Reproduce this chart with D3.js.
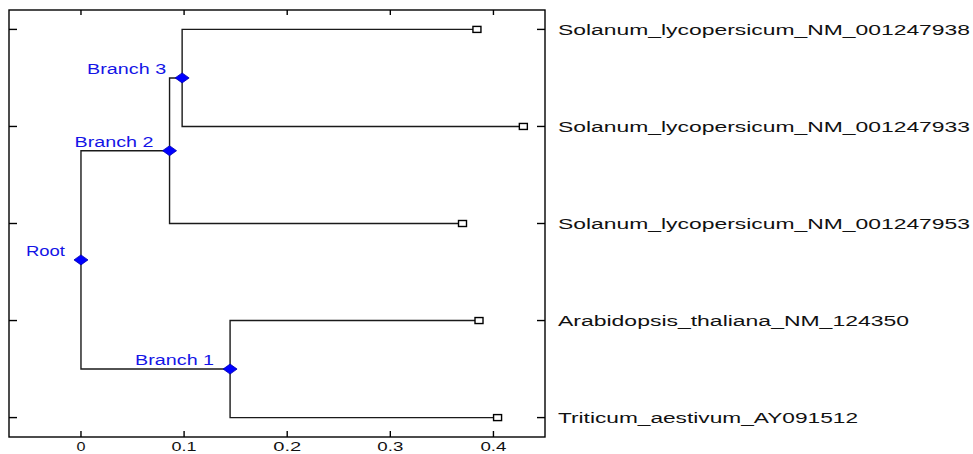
<!DOCTYPE html>
<html><head><meta charset="utf-8">
<script src="https://cdn.jsdelivr.net/npm/d3@7"></script>
<style>body{margin:0;background:#fff}svg{display:block}</style>
</head><body>
<svg id="c" width="973" height="454"></svg>
<script>
// Leaves (top to bottom) and their distance from the root
const leafNames = ["Solanum_lycopersicum_NM_001247938","Solanum_lycopersicum_NM_001247933","Solanum_lycopersicum_NM_001247953","Arabidopsis_thaliana_NM_124350","Triticum_aestivum_AY091512"];
const leafDist = [0.384, 0.429, 0.370, 0.386, 0.404];
const leafParent = ["Branch 3","Branch 3","Branch 2","Branch 1","Branch 1"];
// Internal nodes
const branchNames = ["Branch 1","Branch 2","Branch 3","Root"];
const branchDist = [0.1446, 0.0859, 0.0981, 0];
const branchParent = ["Root","Root","Branch 2",null];
const xTicks = [0, 0.1, 0.2, 0.3, 0.4];
const xTickLabels = ["0","0.1","0.2","0.3","0.4"];

const svg = d3.select("#c");
const L = 9, R = 545, T = 10, B = 437;
const x = d3.scaleLinear().domain([-0.0698, 0.4500]).range([L, R]);
const y = d3.scaleLinear().domain([0.8, 5.2]).range([T, B]);

const rows = leafNames.map((n,i)=>({id:n, parent:leafParent[i], dist:leafDist[i], leaf:true, order:i+1}))
  .concat(branchNames.map((n,i)=>({id:n, parent:branchParent[i], dist:branchDist[i], leaf:false})));
const root = d3.stratify().id(d=>d.id).parentId(d=>d.parent)(rows);
root.eachAfter(n=>{
  if (n.data.leaf) n.yv = n.data.order;
  else n.yv = d3.mean(n.children, c=>c.yv);
});

const lineCol = "#1a1a1a";
const g = svg.append("g");
// edges
root.descendants().forEach(n=>{
  if (!n.parent) return;
  const p = n.parent;
  g.append("path")
    .attr("d", d3.line()([[x(p.data.dist), y(p.yv)], [x(p.data.dist), y(n.yv)], [x(n.data.dist), y(n.yv)]]))
    .attr("fill","none").attr("stroke",lineCol).attr("stroke-width",1.4);
});
// leaf markers
root.leaves().forEach(n=>{
  g.append("rect").attr("x", x(n.data.dist)-4).attr("y", y(n.yv)-3).attr("width",8).attr("height",6)
    .attr("fill","#fff").attr("stroke","#000").attr("stroke-width",1.4);
});
// branch markers + labels
root.descendants().filter(n=>!n.data.leaf).forEach(n=>{
  const cx = x(n.data.dist), cy = y(n.yv);
  g.append("path").attr("d", `M${cx-7},${cy}L${cx},${cy-5}L${cx+7},${cy}L${cx},${cy+5}Z`)
    .attr("fill","#0000ff").attr("stroke","#0000b0").attr("stroke-width",0.8).attr("stroke-linejoin","round");
  const tl = n.id === "Root" ? 39 : 79;
  g.append("text").text(n.id).attr("x", cx-16).attr("y", cy-4).attr("text-anchor","end")
    .attr("font-family","Liberation Sans, Arial, sans-serif").attr("font-size",14)
    .attr("fill","#1414e6").attr("textLength", tl).attr("lengthAdjust","spacingAndGlyphs");
});

// axes box
svg.append("rect").attr("x",L).attr("y",T).attr("width",R-L).attr("height",B-T)
  .attr("fill","none").attr("stroke","#000").attr("stroke-width",1.4);
const ax = svg.append("g").attr("stroke","#000").attr("stroke-width",1.4);
xTicks.forEach(t=>{
  ax.append("line").attr("x1",x(t)).attr("x2",x(t)).attr("y1",B).attr("y2",B-6);
  ax.append("line").attr("x1",x(t)).attr("x2",x(t)).attr("y1",T).attr("y2",T+5);
});
leafNames.forEach((n,i)=>{
  ax.append("line").attr("x1",L).attr("x2",L+8).attr("y1",y(i+1)).attr("y2",y(i+1));
  ax.append("line").attr("x1",R).attr("x2",R-8).attr("y1",y(i+1)).attr("y2",y(i+1));
});
// x tick labels
const tw = [9, 25, 28, 26, 26];
xTicks.forEach((t,i)=>{
  svg.append("text").text(xTickLabels[i]).attr("x", x(t)).attr("y", 451).attr("text-anchor","middle")
    .attr("font-family","Liberation Sans, Arial, sans-serif").attr("font-size",12).attr("fill","#111")
    .attr("textLength", tw[i]).attr("lengthAdjust","spacingAndGlyphs");
});
// leaf labels
const lw = [412, 412, 412, 351, 300];
leafNames.forEach((n,i)=>{
  svg.append("text").text(n).attr("x", 558).attr("y", y(i+1)+5.5)
    .attr("font-family","Liberation Sans, Arial, sans-serif").attr("font-size",14).attr("fill","#111")
    .attr("textLength", lw[i]).attr("lengthAdjust","spacingAndGlyphs");
});
</script>
</body></html>
